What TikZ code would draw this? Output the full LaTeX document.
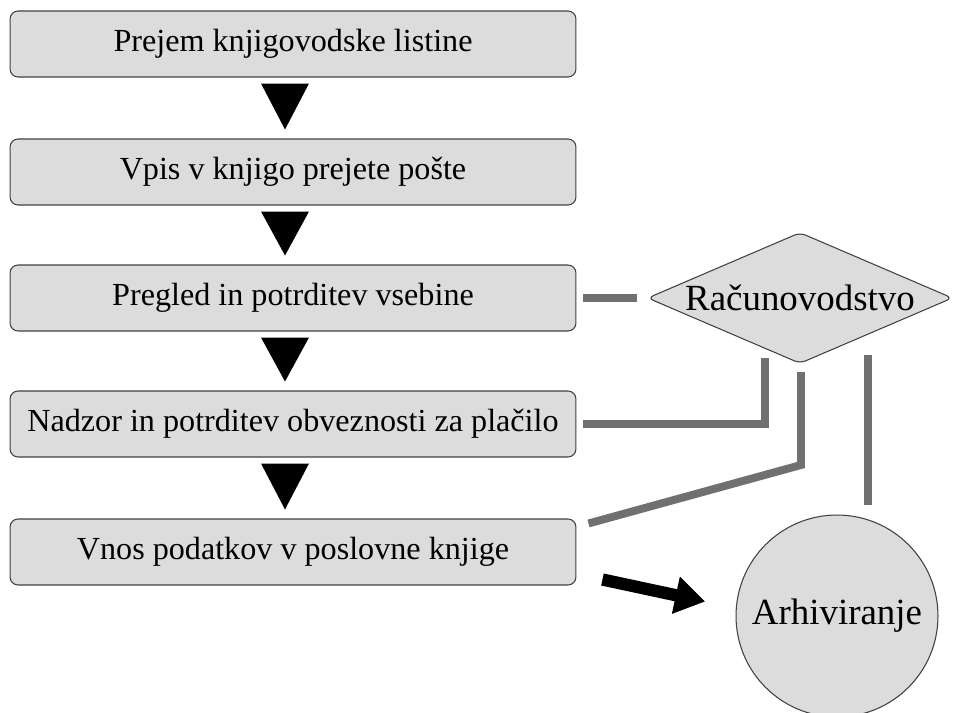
\documentclass[tikz,border=0pt]{standalone}
\usepackage{fontspec}
\setmainfont{Liberation Serif}
\usetikzlibrary{positioning, shapes.geometric, arrows.meta}

\definecolor{boxgray}{HTML}{DCDCDC}
\definecolor{linegray}{HTML}{707070}

\begin{document}
\begin{tikzpicture}[x=0.02cm, y=-0.02cm,
    stepbox/.style={draw=black!75, fill=boxgray, rounded corners=0.16cm, line width=0.6pt,
        minimum width=11.32cm, minimum height=1.32cm, font=\fontsize{18.3}{21}\selectfont},
    link/.style={draw=linegray, line width=4.5pt},
    bigarrow/.style={draw=black, line width=7pt, -{Triangle[length=0.6cm,width=0.72cm]}}
    ]
\useasboundingbox (0,0) rectangle (957,713);

% postopek
\node[stepbox] (b1) at (293,44) {Prejem knjigovodske listine};
\node[stepbox] (b2) at (293,172) {Vpis v knjigo prejete pošte};
\node[stepbox] (b3) at (293,298) {Pregled in potrditev vsebine};
\node[stepbox] (b4) at (293,424) {Nadzor in potrditev obveznosti za plačilo};
\node[stepbox] (b5) at (293,552) {Vnos podatkov v poslovne knjige};

\foreach \i/\j in {1/2,2/3,3/4,4/5}
    \fill ([xshift=-0.64cm,yshift=-0.12cm]b\i.south) -- ([xshift=0.32cm,yshift=-0.12cm]b\i.south)
        -- ([xshift=-0.16cm,yshift=0.18cm]b\j.north) -- cycle;

\node[draw=black!75, fill=boxgray, diamond, aspect=2.33, inner sep=0pt, rounded corners=0.12cm,
    line width=0.6pt, minimum width=6.1cm, minimum height=2.62cm,
    font=\fontsize{21}{24}\selectfont] (rac) at (800,298) {Računovodstvo};
\node[draw=black!75, fill=boxgray, circle, minimum size=4.04cm, line width=0.6pt,
    font=\fontsize{21}{24}\selectfont] (arh) at (837,616) {Arhiviranje};

% povezave
\coordinate (r1) at (765,358);
\coordinate (k2) at (801,465);
\coordinate (r2) at (801,372);
\coordinate (r3) at (868,355);
\coordinate (a3) at (868,505);

\draw[link, shorten <=0.14cm, shorten >=0.2cm] (b3.east) -- (rac.west);
\draw[link] ([xshift=0.14cm]b4.east) -| (r1);
\draw[link] ([xshift=0.24cm,yshift=-0.1cm]b5.north east) -- (k2) -- (r2);
\draw[link] (a3) -- (r3);

\draw[bigarrow, shorten >=0.62cm] ([xshift=0.52cm,yshift=0.12cm]b5.south east) -- ([yshift=0.16cm]arh.west);
\end{tikzpicture}
\end{document}
